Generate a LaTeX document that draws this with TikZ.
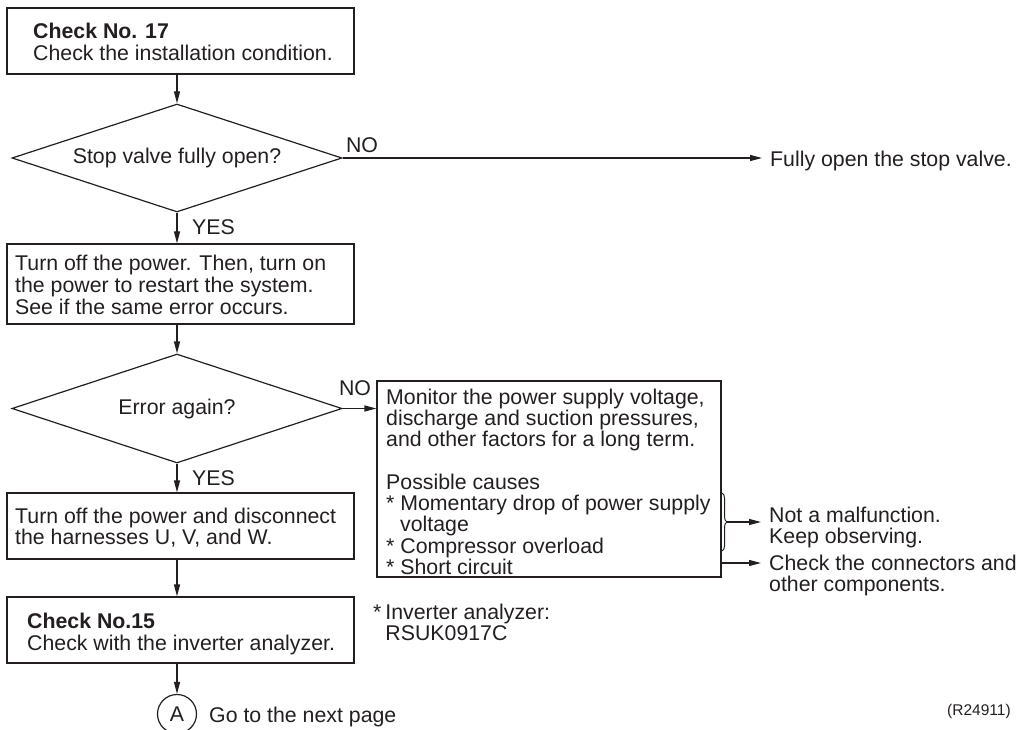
\documentclass[tikz,border=0pt]{standalone}
\usepackage{fontspec}
\setmainfont{Liberation Sans}
\usetikzlibrary{shapes.geometric,arrows.meta,decorations.pathreplacing,calc}
\definecolor{ink}{RGB}{35,31,32}
\begin{document}
\begin{tikzpicture}[x=1pt,y=-1pt,
  every node/.style={font=\fontsize{21.3}{22}\selectfont, text=ink},
  box/.style={draw=ink, line width=1.2pt, rectangle, inner sep=0pt},
  txt/.style={align=left, inner sep=0pt, anchor=base west},
  rtxt/.style={align=left, inner xsep=8pt, inner ysep=0pt, anchor=base west},
  dec/.style={draw=ink, line width=1.2pt, diamond, aspect=3.05, inner sep=0pt, minimum width=330pt, minimum height=108pt},
  arr/.style={draw=ink, line width=1.2pt, -{Triangle[length=12pt,width=6pt]}},
  lab/.style={inner sep=0pt}]
\useasboundingbox (0,0) rectangle (1031,730);

% boxes (text nodes anchored at the baseline of their last line)
\node[box, minimum width=347pt, minimum height=66pt] (b1) at (180.5,41) {};
\node[txt] (t1) at (33,60.5) {\textbf{Check No. 17}\\Check the installation condition.};

\node[dec] (d1) at (177,158) {Stop valve fully open?};

\node[box, minimum width=347pt, minimum height=80pt] (b2) at (180.5,284) {};
\node[txt] (t2) at (15,314.5) {Turn off the power. Then, turn on\\the power to restart the system.\\See if the same error occurs.};

\node[dec, minimum height=109pt] (d2) at (177,408.5) {Error again?};

\node[box, minimum width=344pt, minimum height=196pt] (b3) at (549,479) {};
\node[txt, font=\fontsize{21.3}{21.3}\selectfont] (t3) at (386,574.5) {Monitor the power supply voltage,\\discharge and suction pressures,\\and other factors for a long term.\\[21.3pt]Possible causes\\* Momentary drop of power supply\\\hspace*{14pt}voltage\\* Compressor overload\\* Short circuit};

\node[box, minimum width=347pt, minimum height=66pt] (b4) at (180.5,526) {};
\node[txt, font=\fontsize{21.3}{21}\selectfont] (t4) at (15,544.5) {Turn off the power and disconnect\\the harnesses U, V, and W.};

\node[box, minimum width=347pt, minimum height=66pt] (b5) at (180.5,630) {};
\node[txt, font=\fontsize{21.3}{22.5}\selectfont] (t5) at (27,650.5) {\textbf{Check No.15}\\Check with the inverter analyzer.};

\node[txt, font=\fontsize{21.3}{21}\selectfont] (note) at (373,640.5) {*\hspace{4pt}Inverter analyzer:\\\hphantom{*}\hspace*{4pt}RSUK0917C};

\node[draw=ink, line width=1.2pt, circle, minimum size=39pt, inner sep=0pt] (A) at (177,714) {A};
\node[txt] (next) at (209,722.5) {Go to the next page};

% right-hand texts
\node[rtxt] (fo) at (762,166.5) {Fully open the stop valve.};
\node[rtxt, font=\fontsize{21.3}{21}\selectfont] (nm) at (761,543.5) {Not a malfunction.\\Keep observing.};
\node[rtxt, font=\fontsize{21.3}{20.5}\selectfont] (cc) at (761,591) {Check the connectors and\\other components.};

\node[txt, font=\fontsize{15.5}{16}\selectfont] (ref) at (947,715.5) {(R24911)};

% labels
\node[lab] (no1) at (362,145) {NO};
\node[lab, anchor=west] (yes1) at (192,227) {YES};
\node[lab] (no2) at (355,388) {NO};
\node[lab, anchor=west] (yes2) at (192,478) {YES};

% brace
\draw[ink, line width=1pt, decorate, decoration={brace, amplitude=5pt}] (722,493) -- (722,551);
\coordinate (bt) at (727,522);

% connectors
\draw[arr] (d1.north |- b1.south) -- (d1.north);
\draw[arr] (d1.east) -- (d1.east -| fo.west);
\draw[arr] (d1.south) -- (d1.south |- b2.north);
\draw[arr] (d2.north |- b2.south) -- (d2.north);
\draw[arr] (d2.east) -- (d2.east -| b3.west);
\draw[arr] (d2.south) -- (d2.south |- b4.north);
\draw[arr] (d2.south |- b4.south) -- (d2.south |- b5.north);
\draw[arr] (A.north |- b5.south) -- (A.north);
\draw[arr] (bt) -- (bt -| nm.west);
\draw[arr] ($(b3.east |- cc.base west)+(0,-28)$) -- ($(cc.base west)+(0,-28)$);
\end{tikzpicture}
\end{document}
